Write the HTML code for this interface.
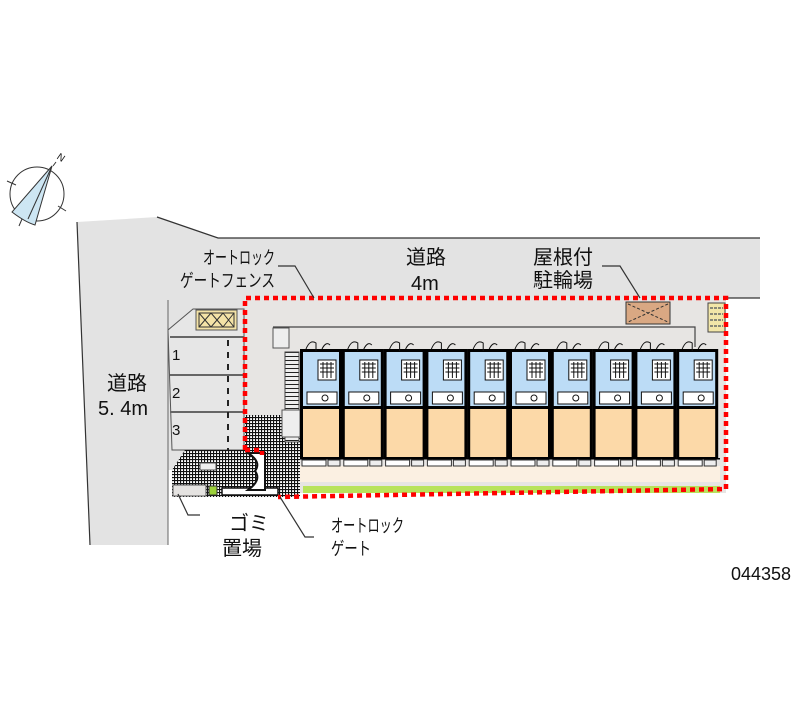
<!DOCTYPE html>
<html><head><meta charset="utf-8"><style>
html,body{margin:0;padding:0;background:#fff;width:800px;height:727px;overflow:hidden}
svg{display:block}
text{font-family:"Liberation Sans","Noto Sans CJK JP",sans-serif;fill:#111}
</style></head><body>
<svg width="800" height="727" viewBox="0 0 800 727" xmlns="http://www.w3.org/2000/svg">
<defs>
<pattern id="h" width="3" height="3" patternUnits="userSpaceOnUse">
<rect width="3" height="3" fill="#fff"/><path d="M0 0.5H3M0.5 0V3" stroke="#111" stroke-width="1.2"/>
</pattern>
<pattern id="st" width="4" height="4" patternUnits="userSpaceOnUse">
<rect width="4" height="4" fill="#eee"/><path d="M0 0.5H4" stroke="#222" stroke-width="1"/>
</pattern>
</defs>
<g stroke="#333" stroke-width="1" fill="none">
<circle cx="37" cy="194" r="27"/>
<path d="M52 166 L12 212 Q25 222 35 225 Z" fill="#cde6f3"/>
<path d="M52 166 L28 219"/>
<path d="M7 181 L16 185 M58 206 L66 211 M22 219 L19 226 M53 166 L56 162"/>
</g>
<text x="58" y="160" font-size="10" transform="rotate(35 60 156)">N</text>
<path d="M77 222 L157 217 L218 238 L760 238 L760 298 L245 298 L245 470 L168 470 L168 545 L90 545 Z" fill="#e3e3e3"/>
<path d="M90 545 L77 222 M157 217 L218 238 L760 238 M760 298 L726 298" stroke="#333" stroke-width="1.2" fill="none"/>
<path d="M168 300 V545" stroke="#666" stroke-width="1"/>
<path d="M193 309 L244 309 L244 450 L172 450 L168 330 Z" fill="#e6e6e6" stroke="#555" stroke-width="1"/>
<path d="M170 337H244 M170 375H244 M170 412H244" stroke="#666" stroke-width="2"/>
<path d="M228 340V450" stroke="#222" stroke-width="2" stroke-dasharray="6,6"/>
<rect x="196" y="310" width="41" height="20" fill="#f4e3a7" stroke="#555"/>
<rect x="199" y="313" width="35" height="14" fill="none" stroke="#333"/>
<path d="M199 313L211 327M211 313L199 327M211 313L223 327M223 313L211 327M223 313L234 327M234 313L223 327" stroke="#333" stroke-width="1"/>
<text x="172" y="360" font-size="15">1</text>
<text x="172" y="398" font-size="15">2</text>
<text x="172" y="435" font-size="15">3</text>
<rect x="245" y="298" width="481" height="195" fill="#e7e5e3"/>
<rect x="245" y="415" width="55" height="82" fill="url(#h)"/>
<path d="M172 470 L185 450 L245 450 L245 497 L172 497 Z" fill="url(#h)"/>
<rect x="173" y="485" width="33" height="11" fill="#e5e3e1" stroke="#555"/>
<rect x="200" y="463" width="16" height="7" fill="#eee" stroke="#555"/>
<rect x="209" y="486" width="8" height="9" fill="#9cd13a" stroke="#333"/>
<rect x="222" y="488" width="56" height="7" fill="#fff" stroke="#111" stroke-width="1.5"/>
<path d="M248 453 L265 453 L265 490 L248 490 Q262 480 255 471 Q262 462 248 453Z" fill="#fff" stroke="#111" stroke-width="2"/>
<rect x="273" y="328" width="16" height="20" fill="#eee" stroke="#555"/>
<rect x="285" y="352" width="14" height="90" fill="url(#st)" stroke="#444"/>
<rect x="282" y="410" width="18" height="27" fill="#eee" stroke="#555"/>
<path d="M273 327 H695 V347" stroke="#444" stroke-width="1.2" fill="none"/>
<rect x="300" y="466" width="420" height="16" fill="#fbf0e2"/>
<rect x="303" y="486" width="417" height="7" fill="#b8e35c"/>
<rect x="626" y="302" width="44" height="22" fill="#d9a883" stroke="#333"/>
<path d="M628 304L668 322M668 304L628 322" stroke="#333" stroke-dasharray="3,2"/>
<rect x="708" y="303" width="17" height="29" fill="#f2e6a8" stroke="#444"/>
<path d="M710 308h13M710 314h13M710 320h13M710 326h13" stroke="#887" stroke-width="2" stroke-dasharray="3,1"/>
<g id="u">
<rect x="300" y="349" width="42" height="110" fill="#000"/>
<rect x="303" y="352" width="36" height="54" fill="#bcdcf6"/>
<rect x="303" y="409" width="36" height="48" fill="#fcd9a8"/>
<rect x="318" y="360" width="18" height="20" fill="#fff" stroke="#111"/>
<path d="M320 364h14M320 368h14M320 372h14M323 362v16M327 362v16M331 362v16" stroke="#111"/>
<rect x="307" y="392" width="30" height="12" fill="#fff" stroke="#111"/>
<circle cx="325" cy="398" r="3" fill="none" stroke="#111"/>
<path d="M306 349 q4-10 10-6 v8 M322 349 q4-8 8-4" fill="none" stroke="#111"/>
<rect x="302" y="460" width="24" height="6" fill="#fff" stroke="#333"/>
<rect x="328" y="460" width="12" height="6" fill="#eee" stroke="#333"/>
</g>
<use href="#u" x="41.8"/><use href="#u" x="83.6"/><use href="#u" x="125.4"/><use href="#u" x="167.2"/>
<use href="#u" x="209"/><use href="#u" x="250.8"/><use href="#u" x="292.6"/><use href="#u" x="334.4"/><use href="#u" x="376.2"/>
<rect x="300" y="458" width="420" height="1.5" fill="#000"/>
<path d="M245 450 V298 H726 V489 L278 497 M245 450 H262 V455" stroke="#ff0000" stroke-width="4.5" stroke-dasharray="5,4" fill="none"/>
<path d="M278 266 H295 L314 298 M602 266 H620 L640 298 M200 515 H188 L178 494 M314 537 H305 L280 497" stroke="#333" stroke-width="1.2" fill="none"/>
<g font-size="18">
<text x="203" y="264" textLength="72" lengthAdjust="spacingAndGlyphs">オートロック</text>
<text x="180" y="287" textLength="95" lengthAdjust="spacingAndGlyphs">ゲートフェンス</text>
<text x="406" y="264" font-size="20">道路</text>
<text x="411" y="290" font-size="20">4m</text>
<text x="533" y="264" font-size="20">屋根付</text>
<text x="533" y="287" font-size="20">駐輪場</text>
<text x="107" y="390" font-size="20">道路</text>
<text x="98" y="415" font-size="20">5. 4m</text>
<text x="229" y="530" font-size="20">ゴミ</text>
<text x="222" y="555" font-size="20">置場</text>
<text x="331" y="532" textLength="73" lengthAdjust="spacingAndGlyphs">オートロック</text>
<text x="331" y="555" textLength="40" lengthAdjust="spacingAndGlyphs">ゲート</text>
<text x="731" y="580" font-size="18">044358</text>
</g>
</svg>
</body></html>
